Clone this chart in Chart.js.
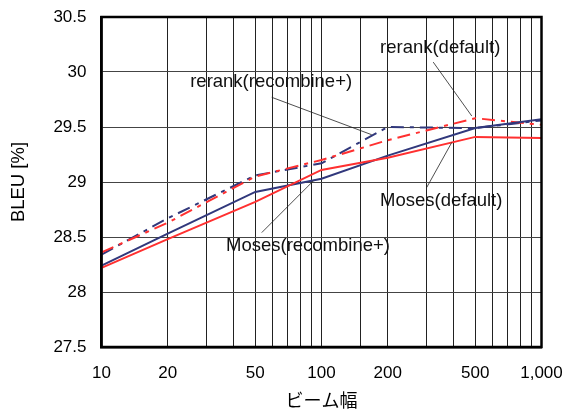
<!DOCTYPE html>
<html>
<head>
<meta charset="utf-8">
<script src="https://cdn.jsdelivr.net/npm/chart.js@4/dist/chart.umd.min.js"></script>
<style>
  html, body { margin: 0; padding: 0; background: #fff; }
  #wrap { width: 563px; height: 413px; }
</style>
</head>
<body>
<div id="wrap"><canvas id="chart" width="563" height="413"></canvas></div>
<script>
// beam widths (x) and BLEU scores
var beams = [10, 20, 50, 100, 200, 500, 1000];
var mosesDefault   = [28.22, 28.48, 28.82, 29.11, 29.22, 29.41, 29.40];
var mosesRecombine = [28.24, 28.53, 28.91, 29.03, 29.24, 29.49, 29.57];
var rerankDefault  = [28.36, 28.63, 29.05, 29.20, 29.38, 29.58, 29.52];
var rerankRecombine = [28.34, 28.67, 29.06, 29.17, 29.50, 29.49, 29.56];
var xLabels = [10, 20, 50, 100, 200, 500, 1000];
var yTicks = [27.5, 28, 28.5, 29, 29.5, 30, 30.5];

// callouts: label, text position and leader line, in data units
var callouts = [
    { text: 'rerank(recombine+)', tx: 25.3, ty: 29.91, from: [59.4, 29.77], to: [169, 29.43] },
    { text: 'rerank(default)', tx: 184.5, ty: 30.22, from: [322, 30.09], to: [482, 29.60] },
    { text: 'Moses(default)', tx: 184.5, ty: 28.83, from: [300.7, 28.95], to: [391, 29.36] },
    { text: 'Moses(recombine+)', tx: 36.8, ty: 28.42, from: [53.5, 28.54], to: [91.8, 29.01] }
];

var NAVY = '#31387c';
var RED = '#ff3030';
var FONT = "'Liberation Sans', Arial, sans-serif";

function toPoints(values){
    var pts = [];
    for(let i=0; i<beams.length; i++){
        pts.push({ x: beams[i], y: values[i] });
    }
    return pts;
}

function makeSet(label, values, color, dashed){
    return {
        label: label,
        data: toPoints(values),
        borderColor: color,
        backgroundColor: color,
        borderWidth: 2,
        borderDash: dashed ? [13, 6, 4, 6] : [],
        pointRadius: 0,
        tension: 0,
        fill: false
    };
}

var framePlugin = {
    id: 'frame',
    afterDraw: function(chart){
        var ctx = chart.ctx;
        var a = chart.chartArea;
        var xs = chart.scales.x, ys = chart.scales.y;
        ctx.save();
        ctx.strokeStyle = '#000';
        ctx.lineWidth = 2.5;
        ctx.strokeRect(a.left, a.top, a.right - a.left, a.bottom - a.top);

        ctx.font = '18.5px ' + FONT;
        ctx.fillStyle = '#111';
        ctx.textBaseline = 'middle';
        ctx.textAlign = 'left';
        ctx.lineWidth = 0.8;
        ctx.strokeStyle = '#222';
        callouts.forEach(function(c){
            ctx.fillText(c.text, xs.getPixelForValue(c.tx), ys.getPixelForValue(c.ty));
            ctx.beginPath();
            ctx.moveTo(xs.getPixelForValue(c.from[0]), ys.getPixelForValue(c.from[1]));
            ctx.lineTo(xs.getPixelForValue(c.to[0]), ys.getPixelForValue(c.to[1]));
            ctx.stroke();
        });
        ctx.restore();
    }
};

new Chart(document.getElementById('chart'), {
    type: 'line',
    data: {
        datasets: [
            makeSet('Moses(default)', mosesDefault, RED, false),
            makeSet('Moses(recombine+)', mosesRecombine, NAVY, false),
            makeSet('rerank(default)', rerankDefault, RED, true),
            makeSet('rerank(recombine+)', rerankRecombine, NAVY, true)
        ]
    },
    options: {
        responsive: false,
        animation: false,
        layout: { padding: { top: 17, right: 21.5, left: 0, bottom: 0 } },
        plugins: { legend: { display: false }, tooltip: { enabled: false } },
        scales: {
            x: {
                type: 'logarithmic',
                min: 10,
                max: 1000,
                afterFit: function(scale){
                    scale.height = 66;
                    scale.paddingLeft = 0;
                    scale.paddingRight = 0;
                },
                grid: { color: '#222', lineWidth: 1, drawTicks: false },
                border: { color: '#000', width: 2.5 },
                ticks: {
                    autoSkip: false,
                    maxRotation: 0,
                    padding: 16,
                    color: '#000',
                    font: { family: FONT, size: 17 },
                    callback: function(value){
                        if(xLabels.indexOf(value) < 0) return '';
                        return value.toLocaleString('en-US');
                    }
                },
                title: {
                    display: true,
                    text: 'ビーム幅',
                    color: '#000',
                    font: { family: "'Noto Sans CJK JP', sans-serif", size: 18 },
                    padding: { top: 0, bottom: 2 }
                }
            },
            y: {
                min: 27.5,
                max: 30.5,
                afterFit: function(scale){
                    scale.width = 101.5;
                    scale.paddingTop = 0;
                    scale.paddingBottom = 0;
                },
                afterBuildTicks: function(scale){
                    scale.ticks = yTicks.map(function(v){ return { value: v }; });
                },
                grid: { color: '#444', lineWidth: 1, drawTicks: false },
                border: { color: '#000', width: 2.5 },
                ticks: {
                    padding: 15,
                    color: '#000',
                    font: { family: FONT, size: 17 },
                    callback: function(value){ return String(value); }
                },
                title: {
                    display: true,
                    text: 'BLEU [%]',
                    color: '#000',
                    font: { family: FONT, size: 18.5 },
                    padding: { top: 8, bottom: 0 }
                }
            }
        }
    },
    plugins: [framePlugin]
});
</script>
</body>
</html>
